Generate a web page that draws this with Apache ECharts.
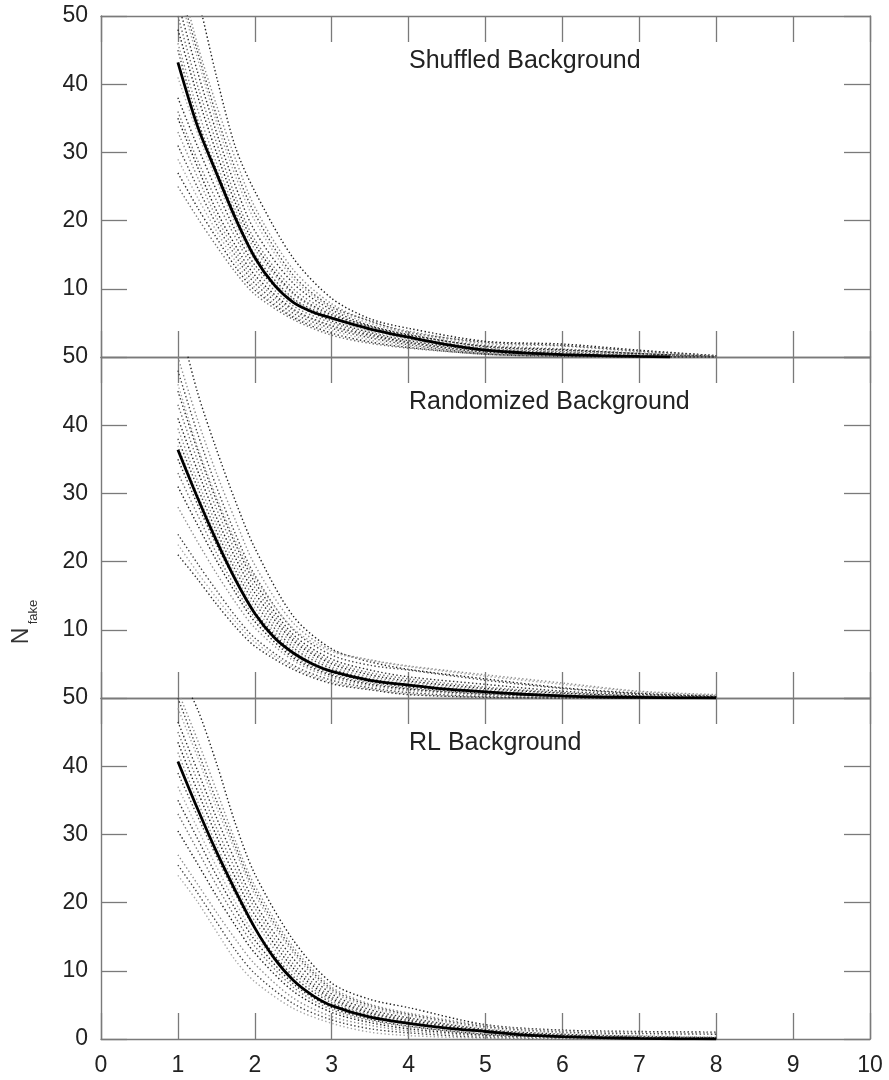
<!DOCTYPE html>
<html>
<head>
<meta charset="utf-8">
<script src="https://cdn.jsdelivr.net/npm/echarts@6/dist/echarts.min.js"></script>
<style>
  html, body { margin: 0; padding: 0; background: #fff; }
  #chart { width: 889px; height: 1080px; }
</style>
</head>
<body>
<div id="chart"></div>
<script>
// Sample positions (x) for the individual runs and for the mean curves
const xsRuns = [1, 1.25, 1.5, 1.75, 2, 2.5, 3, 3.5, 4, 5, 6, 7, 8];
const xsMeanShuffled = [1, 1.25, 1.5, 1.75, 2, 2.25, 2.5, 2.75, 3, 3.5, 4, 4.5, 5, 5.5, 6, 6.5, 7, 7.4];
const xsMean = [1, 1.25, 1.5, 1.75, 2, 2.25, 2.5, 2.75, 3, 3.5, 4, 4.5, 5, 5.5, 6, 6.5, 7, 7.5, 8];

// Mean N_fake curves
const meanShuffled = [43.2, 34, 27, 20.3, 14.6, 10.6, 8.0, 6.6, 5.7, 4.1, 2.9, 1.8, 1.0, 0.6, 0.35, 0.2, 0.08, 0];
const meanRandomized = [36.4, 29.5, 23.1, 17.3, 12.4, 8.9, 6.6, 5.0, 3.9, 2.6, 1.9, 1.3, 0.9, 0.55, 0.3, 0.15, 0.08, 0.03, 0];
const meanRL = [40.7, 33.9, 27.5, 21.7, 16.3, 11.9, 8.6, 6.4, 4.9, 3.2, 2.3, 1.6, 1.1, 0.6, 0.35, 0.2, 0.1, 0.04, 0];

// Individual runs (dotted)
const runsShuffled = [
  [62, 53, 41.2, 30.7, 24.3, 14.5, 8.6, 5.6, 4.2, 2.3, 1.9, 1.0, 0.2],
  [57, 46, 37, 29, 22, 12.8, 7.8, 5.2, 3.8, 2.0, 1.6, 0.8, 0.1],
  [55, 45, 35.5, 27.5, 21, 12, 7.4, 5.3, 3.6, 2.2, 1.7, 0.9, 0.2],
  [54, 44, 34.5, 26.5, 20, 11.5, 7.2, 4.9, 3.5, 1.8, 1.2, 0.6, 0.1],
  [52, 42, 33, 25, 18.5, 10.8, 6.9, 4.6, 3.3, 1.5, 1.0, 0.5, 0],
  [50, 40, 31.5, 23.5, 17.2, 10, 6.5, 4.4, 3.0, 1.3, 0.8, 0.4, 0],
  [48, 38.5, 30, 22.5, 16.5, 9.4, 6.2, 4.5, 3.2, 1.6, 1.1, 0.5, 0.1],
  [46, 36.5, 28.5, 21.5, 15.8, 9.2, 6.0, 4.2, 2.9, 1.2, 0.7, 0.3, 0],
  [45, 35, 27.5, 20.8, 15.0, 8.6, 5.8, 4.1, 2.7, 1.1, 0.6, 0.2, 0],
  [41, 33, 26, 19.5, 14.2, 8.4, 5.6, 3.8, 2.6, 1.0, 0.5, 0.2, 0],
  [38, 31, 24.5, 18.5, 13.5, 8.0, 5.3, 3.6, 2.4, 0.9, 0.4, 0.1, 0],
  [36, 29, 23, 17.5, 12.8, 7.5, 5.0, 3.4, 2.2, 0.8, 0.4, 0.1, 0],
  [35, 28, 21.5, 16.3, 12.0, 7.0, 4.6, 3.2, 2.1, 0.7, 0.3, 0.1, 0],
  [33, 26.5, 20.5, 15.5, 11.4, 6.8, 4.5, 3.0, 2.0, 0.6, 0.2, 0, 0],
  [31, 25, 19.5, 14.8, 10.8, 6.4, 4.2, 2.8, 1.8, 0.5, 0.2, 0, 0],
  [29, 23.5, 18.5, 14, 10.2, 6.0, 3.9, 2.5, 1.6, 0.5, 0.1, 0, 0],
  [27, 22, 17.5, 13.2, 9.8, 5.8, 3.5, 2.2, 1.4, 0.4, 0.1, 0, 0],
  [25, 20.5, 16.3, 12.4, 9.2, 5.5, 3.2, 2.0, 1.3, 0.4, 0.1, 0, 0]
];
const runsRandomized = [
  [56, 45, 36.5, 28.8, 22, 12.0, 7.2, 5.3, 4.2, 2.8, 1.5, 0.7, 0.3],
  [50, 41, 33, 26, 19.5, 11.0, 7.0, 5.6, 4.7, 3.4, 2.2, 1.0, 0.5],
  [48, 39, 31, 24, 18, 10.0, 6.3, 4.8, 4.1, 2.6, 1.4, 0.6, 0.2],
  [46, 37, 29.5, 23, 17.6, 10.2, 6.8, 5.5, 4.6, 3.2, 2.0, 0.9, 0.4],
  [45, 36.5, 29, 22.5, 17, 9.3, 5.7, 4.1, 3.1, 2.0, 1.0, 0.5, 0.2],
  [43, 35, 27.8, 21.5, 16.2, 8.8, 5.3, 3.7, 2.8, 1.6, 0.8, 0.3, 0.1],
  [41, 33.5, 26.5, 20.5, 15.4, 8.4, 5.0, 3.4, 2.5, 1.4, 0.7, 0.3, 0.1],
  [39.5, 32, 25.5, 19.5, 14.6, 7.9, 4.6, 3.1, 2.3, 1.2, 0.5, 0.2, 0],
  [38, 31, 24.5, 18.7, 13.9, 7.4, 4.3, 2.8, 2.0, 1.0, 0.4, 0.1, 0],
  [37, 30, 23.8, 18, 13.2, 7.0, 4.0, 2.6, 1.8, 0.9, 0.4, 0.1, 0],
  [35, 28.5, 22.5, 17.2, 12.6, 6.7, 3.8, 2.4, 1.6, 0.7, 0.3, 0.1, 0],
  [33, 27, 21.3, 16.2, 11.8, 6.2, 3.5, 2.2, 1.4, 0.6, 0.2, 0, 0],
  [31, 25.5, 20.2, 15.4, 11.2, 5.9, 3.3, 2.0, 1.3, 0.5, 0.2, 0, 0],
  [28, 23, 18.3, 14, 10.3, 5.5, 3.0, 1.8, 1.1, 0.4, 0.1, 0, 0],
  [24, 19.8, 15.8, 12.0, 8.8, 4.8, 2.6, 1.5, 0.8, 0.2, 0, 0, 0],
  [22.5, 18.5, 14.7, 11.2, 8.2, 4.5, 2.3, 1.3, 0.6, 0.1, 0, 0, 0],
  [21, 17.5, 13.8, 10.4, 7.6, 4.2, 2.1, 1.2, 0.5, 0.1, 0, 0, 0]
];
const runsRL = [
  [54, 48.5, 40.5, 31.5, 24.2, 14.5, 8.2, 5.8, 4.6, 2.1, 1.3, 1.1, 1.0],
  [51, 44, 36.5, 29, 22.5, 13.5, 7.6, 5.1, 3.8, 2.0, 1.2, 1.0, 0.9],
  [50, 42.5, 35, 28.2, 21.8, 13.0, 7.3, 4.9, 3.6, 1.8, 1.0, 0.8, 0.7],
  [48.5, 41.5, 34, 27.5, 21.2, 12.6, 7.0, 4.6, 3.4, 1.6, 0.9, 0.5, 0.3],
  [46.5, 39.5, 32.5, 26, 20.0, 11.8, 6.6, 4.3, 3.1, 1.4, 0.7, 0.4, 0.2],
  [45, 38, 31, 24.8, 19.2, 11.0, 6.2, 4.0, 2.9, 1.3, 0.6, 0.3, 0.1],
  [43.5, 36.5, 29.8, 23.6, 18.2, 10.4, 5.9, 3.8, 2.7, 1.2, 0.5, 0.2, 0.1],
  [42, 35, 28.5, 22.5, 17.3, 9.8, 5.6, 3.6, 2.5, 1.0, 0.4, 0.2, 0],
  [39, 32.8, 26.8, 21.2, 16.2, 9.2, 5.3, 3.4, 2.4, 1.0, 0.4, 0.1, 0],
  [37, 31, 25.3, 20, 15.3, 8.6, 4.9, 3.1, 2.1, 0.8, 0.3, 0.1, 0],
  [35, 29.5, 24, 19, 14.5, 8.1, 4.6, 2.9, 1.9, 0.7, 0.3, 0, 0],
  [33, 27.8, 22.6, 17.8, 13.6, 7.6, 4.3, 2.7, 1.8, 0.6, 0.2, 0, 0],
  [30.5, 25.8, 21.0, 16.6, 12.6, 7.0, 3.9, 2.4, 1.5, 0.5, 0.2, 0, 0],
  [27, 22.8, 18.6, 14.6, 11.0, 6.0, 3.3, 2.0, 1.2, 0.4, 0.1, 0, 0],
  [25.5, 21.5, 17.2, 13.0, 9.6, 5.2, 2.8, 1.5, 0.9, 0.2, 0, 0, 0],
  [24, 20.2, 15.8, 11.5, 8.4, 4.5, 2.3, 1.0, 0.5, 0.1, 0, 0, 0]
];

const panelTitles = ['Shuffled Background', 'Randomized Background', 'RL Background'];
const xTickLabels = ['0', '1', '2', '3', '4', '5', '6', '7', '8', '9', '10'];

const FONT = '"Liberation Sans", Arial, Helvetica, sans-serif';
const FRAME = '#7a7a7a';
const PLOT_LEFT = 101, PLOT_WIDTH = 769, PANEL_TOP = 16, PANEL_H = 341;

const panels = [
  { title: panelTitles[0], runs: runsShuffled, meanX: xsMeanShuffled, mean: meanShuffled },
  { title: panelTitles[1], runs: runsRandomized, meanX: xsMean, mean: meanRandomized },
  { title: panelTitles[2], runs: runsRL, meanX: xsMean, mean: meanRL }
];

const zip = (xs, ys) => xs.map((x, i) => [x, ys[i]]);
const runColors = ['#1e1e1e', '#8c8c8c', '#444444', '#a6a6a6', '#2e2e2e', '#707070'];

const grid = [], xAxis = [], yAxis = [], series = [], title = [];

panels.forEach((p, i) => {
  const top = PANEL_TOP + i * PANEL_H;
  grid.push({ left: PLOT_LEFT, top: top, width: PLOT_WIDTH, height: PANEL_H, containLabel: false });

  const tick = { show: true, inside: true, length: 26, lineStyle: { color: FRAME, width: 1.3 } };
  const line = { show: true, onZero: false, lineStyle: { color: FRAME, width: 1.4 } };
  const isLast = i === panels.length - 1;

  ['bottom', 'top'].forEach(pos => {
    xAxis.push({
      type: 'value', gridIndex: i, position: pos, min: 0, max: 10, interval: 1,
      axisLine: line, axisTick: tick, splitLine: { show: false },
      axisLabel: {
        show: pos === 'bottom' && isLast, margin: 15,
        fontFamily: FONT, fontSize: 23, color: '#222',
        formatter: v => xTickLabels[Math.round(v)]
      }
    });
  });
  ['left', 'right'].forEach(pos => {
    yAxis.push({
      type: 'value', gridIndex: i, position: pos, min: 0, max: 50, interval: 10,
      axisLine: line, axisTick: tick, splitLine: { show: false },
      axisLabel: {
        show: pos === 'left', margin: 13, showMinLabel: isLast,
        fontFamily: FONT, fontSize: 23, color: '#222'
      }
    });
  });

  p.runs.forEach((r, k) => {
    series.push({
      type: 'line', xAxisIndex: 2 * i, yAxisIndex: 2 * i,
      data: zip(xsRuns, r), showSymbol: false, smooth: 0.3,
      clip: true, silent: true, z: 2,
      lineStyle: { color: runColors[k % runColors.length], width: 1.4, type: [1.4, 2.4] }
    });
  });
  series.push({
    type: 'line', xAxisIndex: 2 * i, yAxisIndex: 2 * i,
    data: zip(p.meanX, p.mean), showSymbol: false, smooth: 0.3,
    clip: true, silent: true, z: 5,
    lineStyle: { color: '#000', width: 2.8 }
  });

  title.push({
    text: p.title, left: 409, top: top + 33, padding: 0,
    textStyle: { fontFamily: FONT, fontSize: 25, fontWeight: 'normal', color: '#222' }
  });
});

const chart = echarts.init(document.getElementById('chart'), null, { renderer: 'canvas' });
chart.setOption({
  animation: false,
  backgroundColor: '#fff',
  title: title,
  grid: grid,
  xAxis: xAxis,
  yAxis: yAxis,
  series: series,
  graphic: [
    {
      type: 'text', x: 22, y: 636, rotation: Math.PI / 2,
      style: { text: 'N', font: '23px ' + FONT, fill: '#333', align: 'center', verticalAlign: 'middle' }
    },
    {
      type: 'text', x: 33, y: 612, rotation: Math.PI / 2,
      style: { text: 'fake', font: '13px ' + FONT, fill: '#333', align: 'center', verticalAlign: 'middle' }
    }
  ]
});
</script>
</body>
</html>
